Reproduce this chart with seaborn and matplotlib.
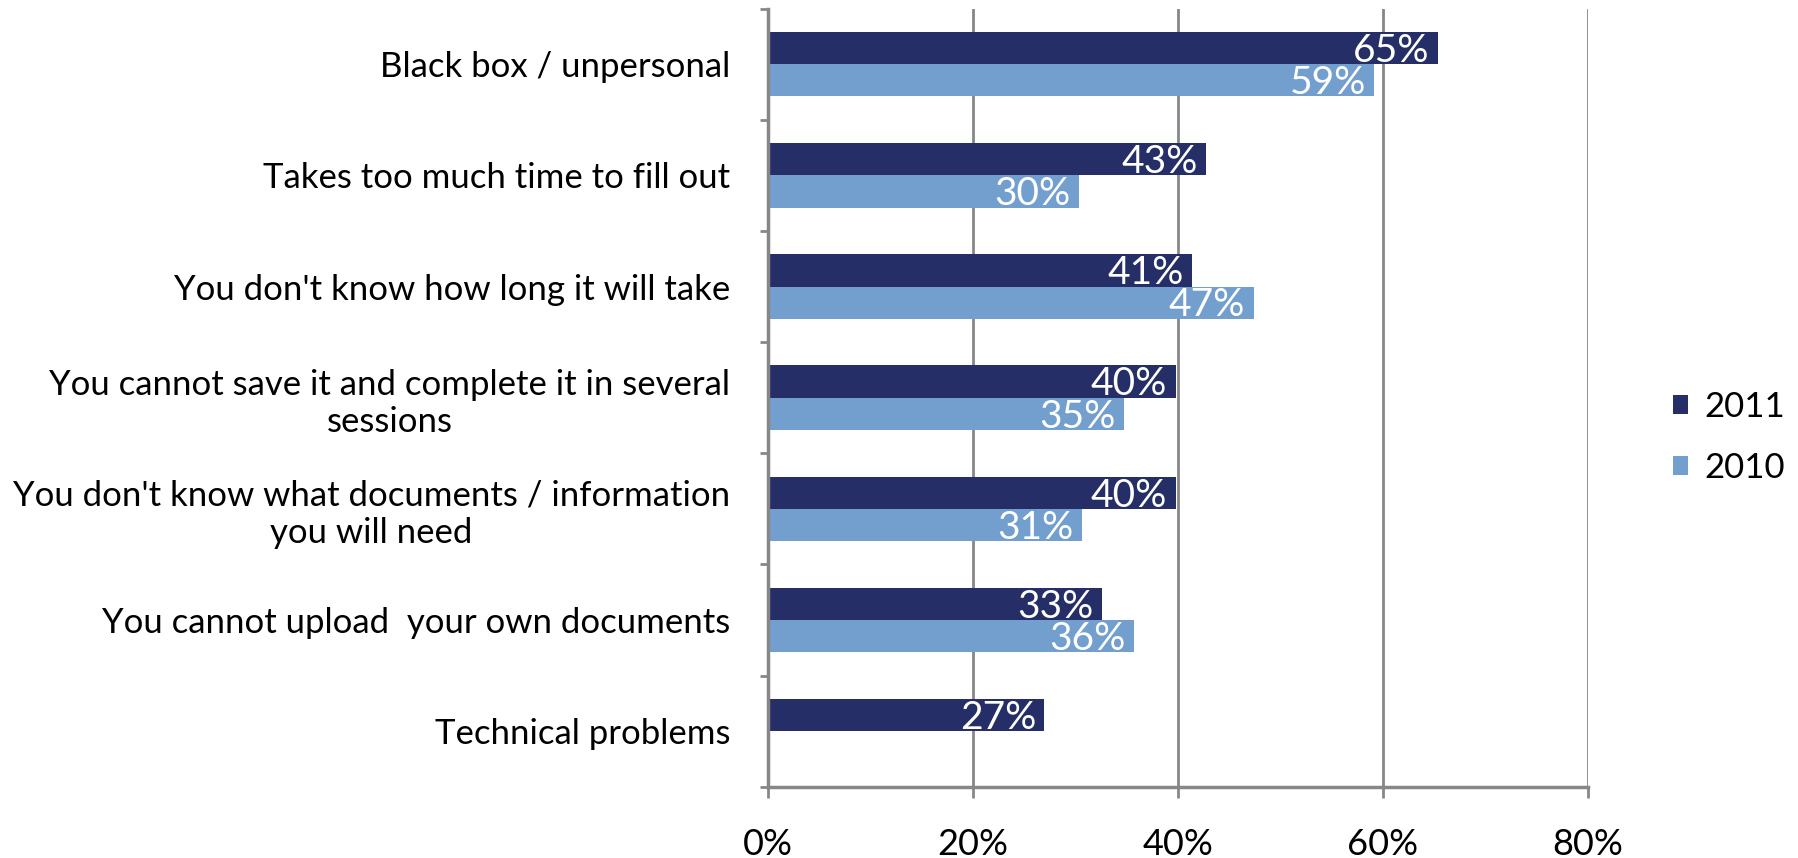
import numpy as np
import pandas as pd
import matplotlib
matplotlib.use("Agg")
import matplotlib.pyplot as plt
import seaborn as sns

# values
reasons = [
    "Black box / unpersonal",
    "Takes too much time to fill out",
    "You don't know how long it will take",
    "You cannot save it and complete it in several\nsessions",
    "You don't know what documents / information\nyou will need",
    "You cannot upload  your own documents",
    "Technical problems",
]
share_2011 = [65.4, 42.8, 41.4, 39.8, 39.8, 32.6, 27.0]
share_2010 = [59.2, 30.4, 47.4, 34.8, 30.7, 35.7, np.nan]
years = ["2011", "2010"]
year_colors = ["#252E66", "#739FCE"]
x_ticks = [0, 20, 40, 60, 80]

df = pd.DataFrame({
    "reason": reasons * 2,
    "year": ["2011"] * len(reasons) + ["2010"] * len(reasons),
    "share": share_2011 + share_2010,
})

sns.set_theme(style="white")
plt.rcParams["font.family"] = ["Lato", "DejaVu Sans"]
plt.rcParams["text.color"] = "black"

fig = plt.figure(figsize=(17.98, 8.58), dpi=100)
ax = fig.add_axes([0.427, 0.083, 0.456, 0.907])

sns.barplot(data=df, y="reason", x="share", hue="year", hue_order=years,
            palette=year_colors, order=reasons, orient="h", width=0.58,
            errorbar=None, saturation=1, ax=ax, edgecolor="none")

# white value labels, right aligned just inside the bar ends
for cont in ax.containers:
    labels = [f"{v:.0f}%" if not np.isnan(v) else "" for v in cont.datavalues]
    texts = ax.bar_label(cont, labels=labels, padding=-6, color="white",
                         fontsize=28)
    for t in texts:
        t.set_ha("right")
        t.xyann = (-6, -2)

ax.set_xlim(0, 80)
ax.set_xticks(x_ticks)
ax.set_xticklabels([f"{t}%" for t in x_ticks], fontsize=26, color="black")
ax.set_ylim(len(reasons) - 0.5, -0.5)
ax.set_yticklabels(reasons, fontsize=25, ma="center", color="black")
ax.set_xlabel("")
ax.set_ylabel("")

grid_c = "#878787"
ax.grid(axis="x", color=grid_c, lw=2)
ax.set_axisbelow(True)
for s in ["top", "right"]:
    ax.spines[s].set_visible(False)
for s in ["left", "bottom"]:
    ax.spines[s].set_color(grid_c)
    ax.spines[s].set_linewidth(2.5)

ax.tick_params(axis="x", which="major", direction="out", length=8, width=2,
               color=grid_c, pad=22, bottom=True)
ax.tick_params(axis="y", which="major", length=0, pad=27)
ax.set_yticks(np.arange(-0.5, len(reasons), 1), minor=True)
ax.tick_params(axis="y", which="minor", direction="out", length=6, width=2,
               color=grid_c, left=True)

leg = ax.legend(title=None, frameon=False, fontsize=25, loc="center left",
                bbox_to_anchor=(0.913, 0.49), bbox_transform=fig.transFigure,
                handlelength=0.45, handleheight=0.45, handletextpad=0.45,
                labelspacing=0.84)

fig.savefig("out.png", dpi=100)
